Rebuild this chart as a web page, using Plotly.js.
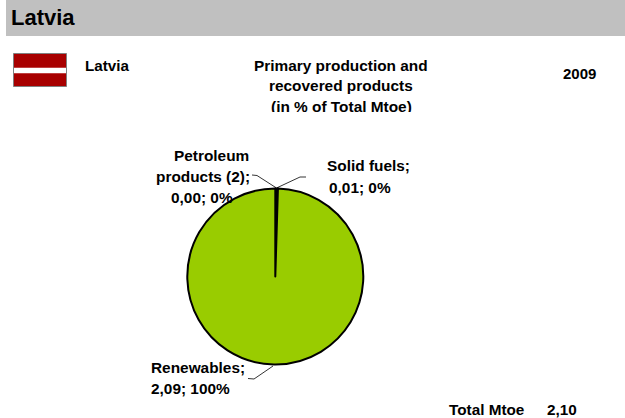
<!DOCTYPE html>
<html><head><meta charset="utf-8">
<script src="https://cdn.plot.ly/plotly-3.0.1.min.js"></script>
<style>html,body{margin:0;padding:0;background:#fff;overflow:hidden}</style>
</head><body><div id="chart" style="width:625px;height:418px"></div>
<script>
const categories = ["Solid fuels", "Petroleum products (2)", "Renewables"];
const values = [0.01, 0.00, 2.09];
const sliceColors = ["#000000", "#000000", "#99cc00"];
const W = 625, H = 418;
const px = x => x / W, py = y => 1 - y / H;
const FONT = "Liberation Sans, Arial, sans-serif";
// text, x, y, size, anchor
const textItems = [
  ["<b>Latvia</b>", 9, 17, 22, "left"],
  ["<b>Latvia</b>", 83, 65.5, 15.2, "left"],
  ["<b>Primary production and</b>", 341, 65.5, 15.4, "center"],
  ["<b>recovered products</b>", 341, 85.5, 15.4, "center"],
  ["<b>(in % of Total Mtoe)</b>", 341, 106.5, 15.4, "center"],
  ["<b>2009</b>", 579, 73.5, 15, "center"],
  ["<b>Petroleum</b>", 211, 156, 15.4, "center"],
  ["<b>products (2);</b>", 203, 176, 15.4, "center"],
  ["<b>0,00; 0%</b>", 202, 197, 15.4, "center"],
  ["<b>Solid fuels;</b>", 368, 166, 15.4, "center"],
  ["<b>0,01; 0%</b>", 359.5, 187, 15.4, "center"],
  ["<b>Renewables;</b>", 149, 367, 15.4, "left"],
  ["<b>2,09; 100%</b>", 149, 388, 15.4, "left"],
  ["<b>Total Mtoe</b>", 447, 409, 15.3, "left"],
  ["<b>2,10</b>", 545, 409, 15.3, "left"]
];
const annotations = textItems.map(t => ({
  text: t[0], x: px(t[1]), y: py(t[2]), xref: "paper", yref: "paper",
  xanchor: t[4], yanchor: "middle", showarrow: false,
  font: {family: FONT, size: t[3], color: "#000"}
}));
// mask clipping the bottom of the third subtitle line
annotations.push({text: " ", x: px(341), y: py(112), xref: "paper", yref: "paper",
  xanchor: "center", yanchor: "top", showarrow: false, width: 240, height: 12,
  bgcolor: "#fff", borderpad: 0, borderwidth: 0, font: {size: 8}});
const rect = (x0, y0, x1, y1, fill, line) => ({type: "rect", xref: "paper", yref: "paper",
  x0: px(x0), x1: px(x1), y0: py(y0), y1: py(y1), fillcolor: fill,
  line: line ? {color: line, width: 1} : {width: 0}, layer: "below"});
const leader = pts => ({type: "path", xref: "paper", yref: "paper", layer: "above",
  path: "M" + pts.map(p => px(p[0]) + "," + py(p[1])).join("L"),
  line: {color: "#000", width: 0.8}});
const shapes = [
  rect(6, 0, 625, 36, "#c0c0c0"),
  rect(13.5, 53.5, 66.5, 86.5, "#a80000", "#808080"),
  rect(14, 67.7, 66, 73.3, "#ffffff"),
  leader([[252, 175], [257, 175.5], [276.5, 188]]),
  leader([[276.5, 188], [300, 177], [306, 177]]),
  leader([[273, 366], [254, 379], [248, 378.5]])
];
const cx = 275.3, cy = 276.5, r = 88;
Plotly.newPlot("chart", [{
  type: "pie", labels: categories, values: values, sort: false, direction: "clockwise",
  rotation: 0, textinfo: "none", hoverinfo: "skip", showlegend: false,
  marker: {colors: sliceColors, line: {color: "#000", width: 2}},
  domain: {x: [px(cx - r), px(cx + r)], y: [py(cy + r), py(cy - r)]}
}], {
  width: W, height: H, margin: {l: 0, r: 0, t: 0, b: 0},
  paper_bgcolor: "#fff", plot_bgcolor: "#fff", showlegend: false,
  annotations, shapes
}, {displayModeBar: false, staticPlot: true});
</script></body></html>
